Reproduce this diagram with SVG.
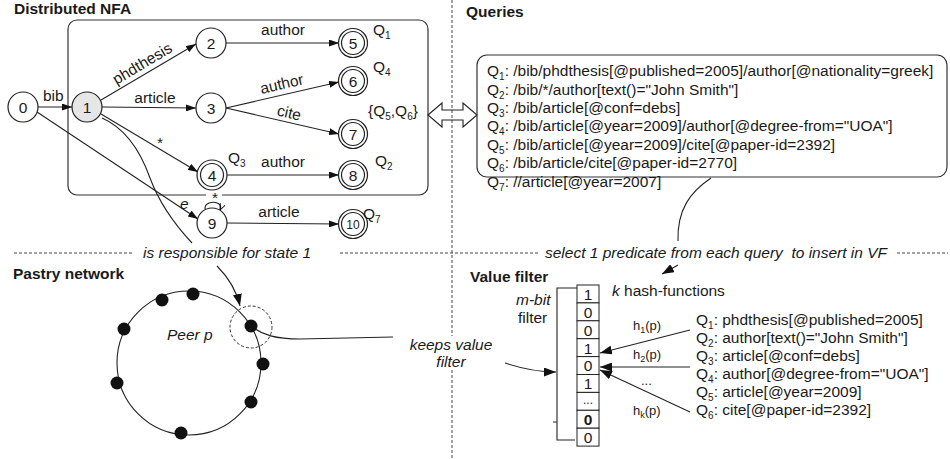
<svg xmlns="http://www.w3.org/2000/svg" width="950" height="459" viewBox="0 0 950 459">
<style>
text{font-family:"Liberation Sans",Arial,Helvetica,sans-serif;font-size:15.5px;fill:#1a1a1a}
.b{font-weight:bold}
.i{font-style:italic}
.m{text-anchor:middle}
.s{font-size:10px}
.h{font-size:13px}
.e{fill:none;stroke:#222;stroke-width:1.1}
.n{fill:#fff;stroke:#222;stroke-width:1.2}
.d{fill:none;stroke:#444;stroke-width:1;stroke-dasharray:3 2}
.box{fill:none;stroke:#333;stroke-width:1.2}
.dot{fill:#111}
</style>
<defs>
<marker id="ah" viewBox="0 0 10 7" refX="10" refY="3.5" markerWidth="10" markerHeight="7" orient="auto" markerUnits="userSpaceOnUse"><path d="M0,0 L10,3.5 L0,7 z" fill="#111"/></marker>
<marker id="ah2" viewBox="0 0 12 9" refX="12" refY="4.5" markerWidth="12" markerHeight="9" orient="auto" markerUnits="userSpaceOnUse"><path d="M0,0 L12,4.5 L0,9 z" fill="#111"/></marker>
<marker id="ah3" viewBox="0 0 7 6" refX="7" refY="3" markerWidth="7" markerHeight="6" orient="auto" markerUnits="userSpaceOnUse"><path d="M0,0 L7,3 L0,6" fill="none" stroke="#111" stroke-width="1"/></marker>
</defs>

<!-- separators -->
<g id="separators">
<line class="d" x1="452" y1="0" x2="452" y2="459"/>
<line class="d" x1="14" y1="253" x2="133" y2="253"/>
<line class="d" x1="340" y1="253" x2="538" y2="253"/>
<line class="d" x1="897" y1="253" x2="948" y2="253"/>
</g>

<!-- titles -->
<text class="b" x="14" y="14">Distributed NFA</text>
<text class="b" x="466" y="17">Queries</text>
<text class="b" x="13" y="279">Pastry network</text>
<text class="b" x="470" y="282">Value filter</text>

<!-- NFA box -->
<rect id="nfa-box" class="box" x="68" y="20" width="360" height="175" rx="9"/>
<rect x="206" y="190" width="16" height="9" fill="#fff"/>

<!-- connectors -->
<g id="connectors">
<line class="e" x1="38" y1="107" x2="72" y2="107" marker-end="url(#ah)"/>
<line class="e" x1="101" y1="100" x2="196" y2="44" marker-end="url(#ah)"/>
<line class="e" x1="102" y1="107" x2="196" y2="108" marker-end="url(#ah)"/>
<line class="e" x1="101" y1="114" x2="198" y2="172" marker-end="url(#ah)"/>
<line class="e" x1="226" y1="43" x2="339" y2="43" marker-end="url(#ah)"/>
<line class="e" x1="226" y1="108" x2="339" y2="82" marker-end="url(#ah)"/>
<line class="e" x1="226" y1="108" x2="339" y2="134" marker-end="url(#ah)"/>
<line class="e" x1="227" y1="175" x2="339" y2="175" marker-end="url(#ah)"/>
<line class="e" x1="227" y1="223" x2="339" y2="224" marker-end="url(#ah)"/>
<line class="e" x1="37" y1="112" x2="198" y2="219" marker-end="url(#ah)"/>
<path class="e" d="M206,211 C200,200 225,199 220,210" marker-end="url(#ah3)"/>
<path class="e" d="M102,118 C125,128 140,150 150,178 C160,205 178,228 192,243"/>
<path class="e" d="M217,266 Q235,284 240,306" marker-end="url(#ah2)"/>
<path class="e" d="M251,326 C262,335 276,339 300,339 L393,337"/>
<path class="e" d="M505,363 C520,368 535,372 556,372" marker-end="url(#ah2)"/>
<path class="e" d="M711,178 C690,192 677,210 678,241"/>
<line class="e" x1="678" y1="265" x2="662" y2="274" marker-end="url(#ah2)"/>
<line class="e" x1="690" y1="330" x2="600" y2="353" marker-end="url(#ah2)"/>
<line class="e" x1="690" y1="367" x2="600" y2="367" marker-end="url(#ah2)"/>
<line class="e" x1="690" y1="412" x2="600" y2="370" marker-end="url(#ah2)"/>
<polygon class="e" points="428,115 442,103 442,110 463,110 463,103 477,115 463,127 463,120 442,120 442,127"/>
</g>

<!-- edge labels -->
<text x="43" y="101">bib</text>
<text class="m" x="145" y="68" transform="rotate(-31 145 68)">phdthesis</text>
<text class="m" x="155" y="103">article</text>
<text class="m" x="160" y="148">*</text>
<text class="i" x="180" y="209">e</text>
<text class="m" x="215" y="203">*</text>
<text class="m" x="283" y="35">author</text>
<text class="m" x="283" y="89" transform="rotate(-13 283 89)">author</text>
<text class="m" x="288" y="118" transform="rotate(13 288 118)">cite</text>
<text class="m" x="283" y="167">author</text>
<text class="m" x="279" y="217">article</text>

<!-- nodes -->
<g id="n0"><circle class="n" cx="23" cy="107" r="15"/><text class="m" x="23" y="112.5">0</text></g>
<g id="n1"><circle class="n" cx="87" cy="107" r="15" style="fill:#e6e6e6"/><text class="m" x="87" y="112.5">1</text></g>
<g id="n2"><circle class="n" cx="211" cy="43" r="15"/><text class="m" x="211" y="48.5">2</text></g>
<g id="n3"><circle class="n" cx="211" cy="108" r="15"/><text class="m" x="211" y="113.5">3</text></g>
<g id="n4"><circle class="n" cx="212" cy="175" r="15"/><circle class="n" cx="212" cy="175" r="11.5"/><text class="m" x="212" y="180.5">4</text></g>
<g id="n9"><circle class="n" cx="212" cy="223" r="15"/><text class="m" x="212" y="228.5">9</text></g>
<g id="n5"><circle class="n" cx="353" cy="43" r="14.5"/><circle class="n" cx="353" cy="43" r="11.5"/><text class="m" x="353" y="48.5">5</text></g>
<g id="n6"><circle class="n" cx="353" cy="81" r="14.5"/><circle class="n" cx="353" cy="81" r="11.5"/><text class="m" x="353" y="86.5">6</text></g>
<g id="n7"><circle class="n" cx="353" cy="134" r="14.5"/><circle class="n" cx="353" cy="134" r="11.5"/><text class="m" x="353" y="139.5">7</text></g>
<g id="n8"><circle class="n" cx="353" cy="175" r="14.5"/><circle class="n" cx="353" cy="175" r="11.5"/><text class="m" x="353" y="180.5">8</text></g>
<g id="n10"><circle class="n" cx="353" cy="224" r="14.5"/><circle class="n" cx="353" cy="224" r="11.5"/><text class="m" x="353" y="228.5" style="font-size:12px">10</text></g>

<!-- accepting labels -->
<text x="373" y="35">Q<tspan class="s" dy="4">1</tspan></text>
<text x="373" y="72">Q<tspan class="s" dy="4">4</tspan></text>
<text x="368" y="116">{Q<tspan class="s" dy="4">5</tspan><tspan dy="-4">,Q</tspan><tspan class="s" dy="4">6</tspan><tspan dy="-4">}</tspan></text>
<text x="228" y="163">Q<tspan class="s" dy="4">3</tspan></text>
<text x="375" y="166">Q<tspan class="s" dy="4">2</tspan></text>
<text x="363" y="219">Q<tspan class="s" dy="4">7</tspan></text>

<!-- queries -->
<g id="queries">
<rect class="box" x="477" y="55" width="470" height="122" rx="10"/>
<text x="487" y="76">Q<tspan class="s" dy="4">1</tspan><tspan dy="-4">: /bib/phdthesis[@published=2005]/author[@nationality=greek]</tspan></text>
<text x="487" y="94.5">Q<tspan class="s" dy="4">2</tspan><tspan dy="-4">: /bib/*/author[text()="John Smith"]</tspan></text>
<text x="487" y="113">Q<tspan class="s" dy="4">3</tspan><tspan dy="-4">: /bib/article[@conf=debs]</tspan></text>
<text x="487" y="131">Q<tspan class="s" dy="4">4</tspan><tspan dy="-4">: /bib/article[@year=2009]/author[@degree-from="UOA"]</tspan></text>
<text x="487" y="149.5">Q<tspan class="s" dy="4">5</tspan><tspan dy="-4">: /bib/article[@year=2009]/cite[@paper-id=2392]</tspan></text>
<text x="487" y="168">Q<tspan class="s" dy="4">6</tspan><tspan dy="-4">: /bib/article/cite[@paper-id=2770]</tspan></text>
<text x="487" y="187">Q<tspan class="s" dy="4">7</tspan><tspan dy="-4">: //article[@year=2007]</tspan></text>
</g>

<!-- dashed labels -->
<text class="i" x="143" y="258">is responsible for state 1</text>
<text class="i" x="545" y="258" style="white-space:pre">select 1 predicate from each query  to insert in VF</text>

<!-- pastry ring -->
<g id="pastry">
<circle cx="189" cy="363" r="72" fill="none" stroke="#222" stroke-width="1.1"/>
<circle cx="251" cy="327" r="21" fill="none" stroke="#333" stroke-width="1" stroke-dasharray="3 2"/>
<circle class="dot" cx="193" cy="294" r="6.5"/>
<circle class="dot" cx="162" cy="300" r="6.5"/>
<circle class="dot" cx="124" cy="329" r="6.5"/>
<circle class="dot" cx="117" cy="383" r="6.5"/>
<circle class="dot" cx="181" cy="433" r="6.5"/>
<circle class="dot" cx="251" cy="402" r="6.5"/>
<circle class="dot" cx="263" cy="364" r="6.5"/>
<circle class="dot" cx="251" cy="326" r="6.5"/>
<text class="i" x="167" y="340">Peer p</text>
</g>

<rect x="405" y="336" width="92" height="34" fill="#fff"/>
<text class="i m" x="451" y="350">keeps value</text>
<text class="i m" x="451" y="367">filter</text>

<!-- value filter -->
<g id="value-filter">
<path class="e" d="M577,288 L557,288 L557,440 L575,440 M553,422 L557,422"/>
<g fill="#fff" stroke="#222" stroke-width="1">
<rect x="577" y="285" width="22" height="17.9"/>
<rect x="577" y="302.9" width="22" height="17.9"/>
<rect x="577" y="320.8" width="22" height="17.9"/>
<rect x="577" y="338.7" width="22" height="17.9"/>
<rect x="577" y="356.6" width="22" height="17.9"/>
<rect x="577" y="374.5" width="22" height="17.9"/>
<rect x="577" y="392.4" width="22" height="17.9"/>
<rect x="577" y="410.3" width="22" height="17.9"/>
<rect x="577" y="428.2" width="22" height="17.9"/>
</g>
<text class="m" x="588" y="299.5">1</text>
<text class="m" x="588" y="317.5">0</text>
<text class="m" x="588" y="335.5">0</text>
<text class="m" x="588" y="353.5">1</text>
<text class="m" x="588" y="371">0</text>
<text class="m" x="588" y="389">1</text>
<text class="m" x="588" y="404" style="font-size:12px">...</text>
<text class="m" x="588" y="425" style="font-weight:bold">0</text>
<text class="m" x="588" y="443">0</text>
<text class="i" x="516" y="305">m-bit</text>
<text x="518" y="323">filter</text>
<text x="612" y="296"><tspan class="i">k</tspan> hash-functions</text>
<text class="h" x="633" y="330">h<tspan style="font-size:9px" dy="3">1</tspan><tspan dy="-3">(p)</tspan></text>
<text class="h" x="633" y="359">h<tspan style="font-size:9px" dy="3">2</tspan><tspan dy="-3">(p)</tspan></text>
<text class="h" x="641" y="385">...</text>
<text class="h" x="633" y="415">h<tspan style="font-size:9px" dy="3">k</tspan><tspan dy="-3">(p)</tspan></text>
<text x="696" y="325">Q<tspan class="s" dy="4">1</tspan><tspan dy="-4">: phdthesis[@published=2005]</tspan></text>
<text x="696" y="343">Q<tspan class="s" dy="4">2</tspan><tspan dy="-4">: author[text()="John Smith"]</tspan></text>
<text x="696" y="361">Q<tspan class="s" dy="4">3</tspan><tspan dy="-4">: article[@conf=debs]</tspan></text>
<text x="696" y="379">Q<tspan class="s" dy="4">4</tspan><tspan dy="-4">: author[@degree-from="UOA"]</tspan></text>
<text x="696" y="397">Q<tspan class="s" dy="4">5</tspan><tspan dy="-4">: article[@year=2009]</tspan></text>
<text x="696" y="415">Q<tspan class="s" dy="4">6</tspan><tspan dy="-4">: cite[@paper-id=2392]</tspan></text>
</g>
</svg>
